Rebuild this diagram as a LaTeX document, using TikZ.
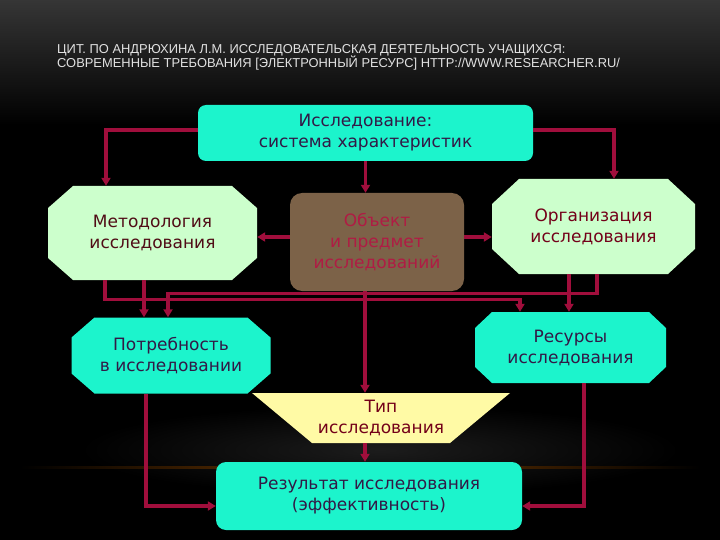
\documentclass[tikz,border=0pt]{standalone}
\usepackage{fontspec}
\setmainfont{DejaVu Sans}
\newfontfamily\titlefont{Liberation Sans}
\usetikzlibrary{arrows.meta}
\definecolor{cyanbox}{RGB}{28,244,204}
\definecolor{greenbox}{RGB}{204,255,204}
\definecolor{brownbox}{RGB}{124,98,72}
\definecolor{yellowbox}{RGB}{255,250,165}
\definecolor{linered}{RGB}{160,14,60}
\definecolor{txtnavy}{RGB}{50,25,70}
\definecolor{txtmaroon}{RGB}{80,12,22}
\definecolor{txtred}{RGB}{115,0,25}
\definecolor{txtpink}{RGB}{175,28,68}
\definecolor{titlegray}{RGB}{225,225,225}
\tikzset{
  base/.style={font=\fontsize{17pt}{21pt}\selectfont, align=center, inner sep=0pt},
  rbox/.style={base, rectangle, rounded corners=#1},
  octo/.style n args={3}{base, rectangle, path picture={
      \fill[#1] ([xshift=#2]path picture bounding box.north west)
        -- ([xshift=-#2]path picture bounding box.north east)
        -- ([yshift=-#3]path picture bounding box.north east)
        -- ([yshift=#3]path picture bounding box.south east)
        -- ([xshift=-#2]path picture bounding box.south east)
        -- ([xshift=#2]path picture bounding box.south west)
        -- ([yshift=#3]path picture bounding box.south west)
        -- ([yshift=-#3]path picture bounding box.north west) -- cycle;}},
  conn/.style={draw=linered, line width=3.1pt, -{Triangle[length=8pt,width=9pt]}},
  titletext/.style={font=\titlefont\fontsize{12.9pt}{14pt}\selectfont, text=titlegray, inner sep=0pt, anchor=base west}
}
\begin{document}
\begin{tikzpicture}[x=1pt,y=-1pt]
\useasboundingbox (0,0) rectangle (720,540);
\fill[black] (0,0) rectangle (720,540);
\shade[top color=gray!42!black, bottom color=black] (0,0) rectangle (720,125);
\shade[inner color=gray!22!black, outer color=black] (380,450) ellipse (300 and 45);
\shade[left color=black, right color=black, middle color=orange!45!black] (20,466) rectangle (700,468.5);

% title
\node[titletext] (t1) at (57,54) {ЦИТ. ПО АНДРЮХИНА Л.М. ИССЛЕДОВАТЕЛЬСКАЯ ДЕЯТЕЛЬНОСТЬ УЧАЩИХСЯ:};
\node[titletext] (t2) at (57,68) {СОВРЕМЕННЫЕ ТРЕБОВАНИЯ [ЭЛЕКТРОННЫЙ РЕСУРС] HTTP://WWW.RESEARCHER.RU/};

% Тип trapezium (shape drawn directly, node carries the text)
\fill[yellowbox] (252,393) -- (510,393) -- (450,443) -- (312,443) -- cycle;

% nodes
\node[rbox=8pt, fill=cyanbox, text=txtnavy, minimum width=335pt, minimum height=56pt] (top) at (365.5,133) {Исследование:\\система характеристик};
\node[octo={greenbox}{25pt}{22pt}, text=txtmaroon, minimum width=209pt, minimum height=94pt] (metod) at (152.5,233) {Методология\\исследования};
\node[rbox=12pt, fill=brownbox, text=txtpink, minimum width=174pt, minimum height=98pt] (obj) at (377,242) {Объект\\и предмет\\исследований};
\node[octo={greenbox}{27pt}{25pt}, text=txtred, minimum width=203pt, minimum height=95pt] (org) at (593.5,226.5) {Организация\\исследования};
\node[octo={cyanbox}{23pt}{20pt}, text=txtnavy, minimum width=199pt, minimum height=76pt] (potr) at (171,355.5) {Потребность\\в исследовании};
\node[octo={cyanbox}{17pt}{16pt}, text=txtnavy, minimum width=191pt, minimum height=71pt] (res) at (570.5,347.5) {Ресурсы\\исследования};
\node[base, text=txtred, minimum width=258pt, minimum height=50pt] (tip) at (381,418) {Тип\\исследования};
\node[rbox=10pt, fill=cyanbox, text=txtnavy, minimum width=306pt, minimum height=68pt] (rez) at (369,496) {Результат исследования\\(эффективность)};

% connectors
\draw[conn] ([yshift=3pt]top.west) -| ([xshift=-46.5pt]metod.north);
\draw[conn] ([yshift=3pt]top.east) -| ([xshift=20.5pt]org.north);
\draw[conn] (top.south) -- (top.south |- obj.north);
\draw[conn] ([yshift=5pt]obj.west) coordinate (ow) -- (ow -| metod.east);
\draw[conn] ([yshift=5pt]obj.east) coordinate (oe) -- (oe -| org.west);

\draw[conn] ([xshift=-47.5pt]metod.south) -- ++(0,19) -| ([xshift=-50.5pt]res.north);
\draw[conn] ([xshift=-8.5pt]metod.south) coordinate (ms) -- (ms |- potr.north);
\draw[conn] ([xshift=3.5pt]org.south) -- ++(0,19) -| ([xshift=-3pt]potr.north);
\draw[conn] ([xshift=-24.5pt]org.south) coordinate (os) -- (os |- res.north);

\draw[conn] ([xshift=-12pt]obj.south) coordinate (obs) -- (obs |- tip.north);
\draw[conn] ([xshift=-16pt]tip.south) coordinate (ts) -- (ts |- rez.north);

\draw[conn] ([xshift=-25pt]potr.south) |- ([yshift=-10pt]rez.west);
\draw[conn] ([xshift=13.5pt]res.south) |- ([yshift=-10pt]rez.east);
\end{tikzpicture}
\end{document}
